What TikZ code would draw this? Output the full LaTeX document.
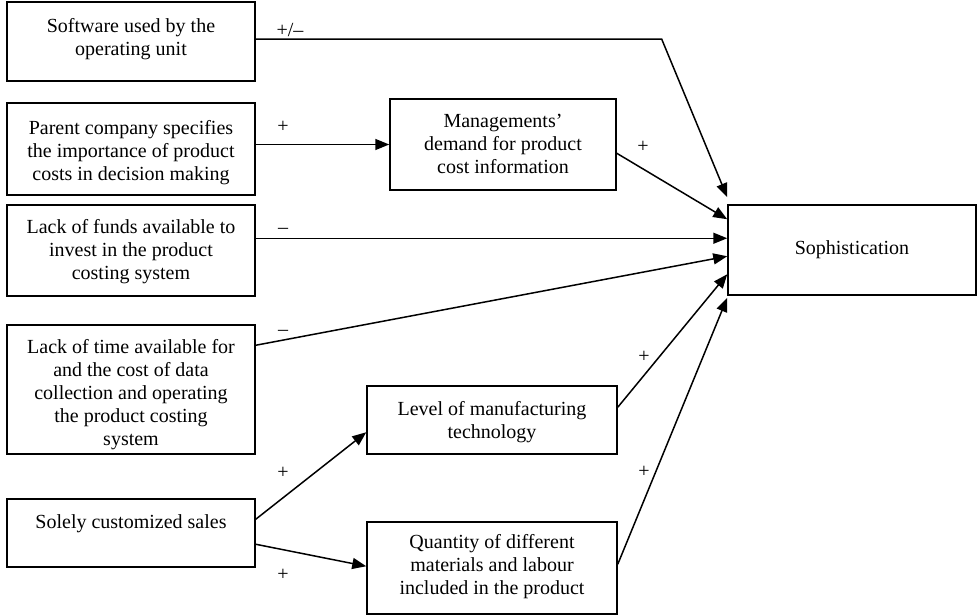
\documentclass[tikz,border=0pt]{standalone}
\usepackage{fontspec}
\setmainfont{Liberation Serif}
\usetikzlibrary{arrows.meta,calc}
\tikzset{
  box/.style={draw, line width=1.5pt, rectangle, inner sep=0pt},
  txt/.style={font=\fontsize{20}{23}\selectfont, align=center, inner sep=0pt, anchor=north},
  sign/.style={font=\fontsize{20}{22}\selectfont, inner sep=0pt, anchor=base},
  link/.style={line width=1.5pt, -{Triangle[length=14pt,width=11pt]}},
}
\begin{document}
\begin{tikzpicture}[x=1pt,y=-1pt]
\useasboundingbox (0,0) rectangle (977,615);
% boxes
\node[box, minimum width=248, minimum height=79,
  label={[txt,yshift=-17pt]north:Software used by the\\operating unit}] (b1) at (131,41.5) {};
\node[box, minimum width=248, minimum height=92,
  label={[txt,yshift=-18pt]north:Parent company specifies\\the importance of product\\costs in decision making}] (b2) at (131,149) {};
\node[box, minimum width=248, minimum height=91,
  label={[txt,yshift=-15pt]north:Lack of funds available to\\invest in the product\\costing system}] (b3) at (131,250.5) {};
\node[box, minimum width=248, minimum height=129,
  label={[txt,yshift=-15pt]north:Lack of time available for\\and the cost of data\\collection and operating\\the product costing\\system}] (b4) at (131,389.5) {};
\node[box, minimum width=248, minimum height=68,
  label={[txt,yshift=-16pt]north:Solely customized sales}] (b5) at (131,533) {};
\node[box, minimum width=226, minimum height=91,
  label={[txt,yshift=-16pt]north:Managements'\\demand for product\\cost information}] (mg) at (503,144.5) {};
\node[box, minimum width=250, minimum height=68,
  label={[txt,yshift=-16pt]north:Level of manufacturing\\technology}] (lv) at (492,420) {};
\node[box, minimum width=250, minimum height=92,
  label={[txt,yshift=-13pt]north:Quantity of different\\materials and labour\\included in the product}] (qt) at (492,568) {};
\node[box, minimum width=248, minimum height=90,
  font=\fontsize{20}{23}\selectfont] (so) at (852,250) {Sophistication};
% connectors
\coordinate (k1) at ($(b1.north east)+(406,38)$);
\draw[link] ($(b1.north east)+(0,38)$) -- (k1) -- ($(so.north west)+(0,-7)$);
\draw[link] (b2.east |- mg.west) -- (mg.west);
\draw[link] ($(mg.north east)+(0,55)$) -- ($(so.north west)+(0,15)$);
\draw[link] ($(b3.north east)+(0,34)$) -- ($(so.north west)+(0,34)$);
\draw[link] ($(b4.north east)+(0,21)$) -- ($(so.north west)+(0,52)$);
\draw[link] ($(lv.north east)+(0,22)$) -- ($(so.north west)+(0,70)$);
\draw[link] ($(qt.north east)+(0,43)$) -- ($(so.south west)+(0,2)$);
\draw[link] ($(b5.north east)+(0,21)$) -- ($(lv.north west)+(0,47)$);
\draw[link] ($(b5.north east)+(0,46)$) -- ($(qt.north west)+(0,45)$);
% signs
\node[sign] (s1) at (290,37) {+/–};
\node[sign] (s2) at (283,133) {+};
\node[sign] (s3) at (643,153) {+};
\node[sign] (s4) at (283,233) {–};
\node[sign] (s5) at (283,335) {–};
\node[sign] (s6) at (644,362) {+};
\node[sign] (s7) at (644,477) {+};
\node[sign] (s8) at (283,478) {+};
\node[sign] (s9) at (283,580) {+};
\end{tikzpicture}
\end{document}
